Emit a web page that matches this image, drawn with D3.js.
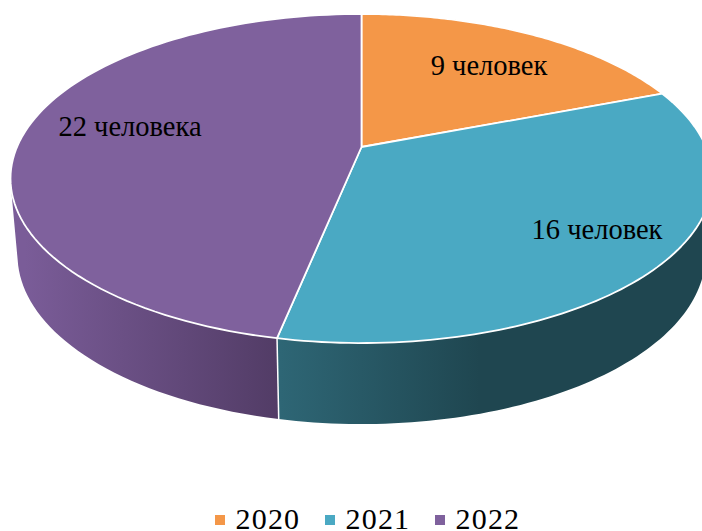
<!DOCTYPE html>
<html>
<head>
<meta charset="utf-8">
<script src="https://cdn.jsdelivr.net/npm/d3@7"></script>
<style>
html, body { margin: 0; padding: 0; background: #fff; }
svg { display: block; }
text { font-family: "Liberation Serif", serif; fill: #000; }
</style>
</head>
<body>
<div id="chart"></div>
<script>
const years = ["2020", "2021", "2022"];
const people = [9, 16, 22];
const labels = ["9 человек", "16 человек", "22 человека"];
const topColors = ["#f49748", "#4aa9c3", "#7f619d"];
const wallStart = ["#c57a3a", "#2e6675", "#7a5c98"];
const wallEnd = ["#c57a3a", "#1f4650", "#523c66"];

const width = 702, height = 531;
const apex = [361.5, 147];

// tilted disc: perspective factor and radii
const k = 0.1915, rx = 344.5, ry = 158.5;
// the lower rim of the wall is a bit narrower and sits lower than the top rim
const topRim = {sx: 1, sy: 1, dy: 0};
const lowRim = {sx: 0.98, sy: 1.027, dy: 75.7};

const project = (angle, rim) => {
	let xc = Math.sin(angle), yc = -Math.cos(angle);
	let w = 1 - k * yc;
	return [apex[0] + rim.sx * rx * xc / w, apex[1] + rim.sy * ry * yc / w + rim.dy];
};

const svg = d3.select("#chart").append("svg")
	.attr("width", width)
	.attr("height", height);

const pie = d3.pie().sort(null);
const slices = pie(people);

const arcPoints = (d, rim) => d3.range(0, 101)
	.map(i => project(d.startAngle + (d.endAngle - d.startAngle) * i / 100, rim));

const line = d3.line();

// wall as a run of small quads, hulled so they all wind the same way
// and the side of the disc fills in where the two rims cross
const wallPath = (d) => {
	let upper = arcPoints(d, topRim), lower = arcPoints(d, lowRim);
	return d3.range(0, 100)
		.map(i => line(d3.polygonHull([upper[i], upper[i + 1], lower[i + 1], lower[i]])) + "Z")
		.join("");
};

const defs = svg.append("defs");
const gradX = [[361, 662], [280, 480], [25, 278]];
slices.forEach((d, i) => {
	let g = defs.append("linearGradient")
		.attr("id", "wall" + i)
		.attr("gradientUnits", "userSpaceOnUse")
		.attr("x1", gradX[i][0]).attr("x2", gradX[i][1])
		.attr("y1", 0).attr("y2", 0);
	g.append("stop").attr("offset", 0).attr("stop-color", wallStart[i]);
	g.append("stop").attr("offset", 1).attr("stop-color", wallEnd[i]);
});

svg.selectAll("path.wall")
	.data(slices)
	.enter().append("path")
	.attr("class", "wall")
	.attr("d", wallPath)
	.style("fill", (d, i) => "url(#wall" + i + ")");

svg.selectAll("path.seam")
	.data(slices)
	.enter().append("path")
	.attr("class", "seam")
	.attr("d", d => line([project(d.startAngle, topRim), project(d.startAngle, lowRim)]))
	.style("fill", "none")
	.style("stroke", "#fff")
	.style("stroke-width", 1.5);

svg.selectAll("path.top")
	.data(slices)
	.enter().append("path")
	.attr("class", "top")
	.attr("d", d => line([apex].concat(arcPoints(d, topRim))) + "Z")
	.style("fill", (d, i) => topColors[i])
	.style("stroke", "#fff")
	.style("stroke-width", 1.8)
	.style("stroke-linejoin", "round");

const labelPos = [[489, 75], [597, 239], [130, 136]];
svg.selectAll("text.label")
	.data(labels)
	.enter().append("text")
	.attr("class", "label")
	.attr("x", (d, i) => labelPos[i][0])
	.attr("y", (d, i) => labelPos[i][1])
	.attr("text-anchor", "middle")
	.style("font-size", "28.5px")
	.text(d => d);

const legendX = d3.scalePoint().domain(years).range([215, 435]);
const legend = svg.selectAll("g.legend")
	.data(years)
	.enter().append("g")
	.attr("class", "legend")
	.attr("transform", d => "translate(" + legendX(d) + ",515)");

legend.append("rect")
	.attr("width", 10)
	.attr("height", 10)
	.style("fill", (d, i) => topColors[i]);

legend.append("text")
	.attr("x", 20.5)
	.attr("y", 14)
	.style("font-size", "30px")
	.style("letter-spacing", "1.2px")
	.text(d => d);
</script>
</body>
</html>
